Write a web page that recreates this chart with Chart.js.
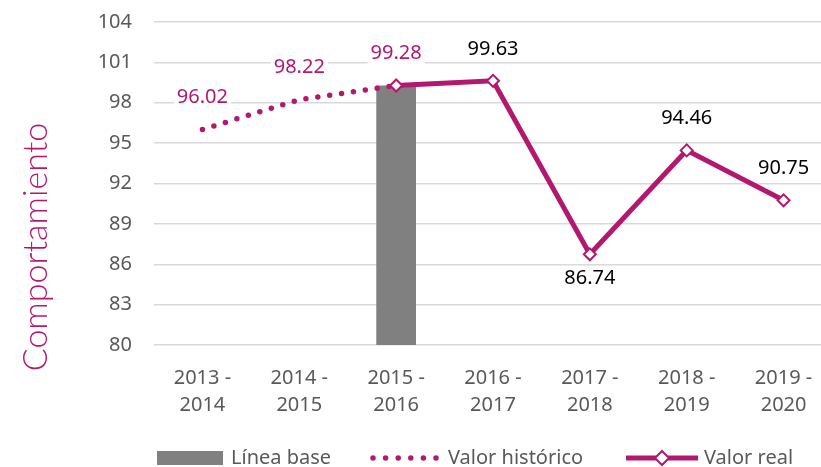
<!DOCTYPE html>
<html>
<head>
<meta charset="utf-8">
<script src="https://cdn.jsdelivr.net/npm/chart.js@4.4.1/dist/chart.umd.min.js"></script>
<style>
  html, body { margin: 0; padding: 0; background: #fff; overflow: hidden; }
  #wrap { position: relative; width: 821px; height: 467px; overflow: hidden; }
  #wrap canvas { position: absolute; left: 0; top: 0; }
</style>
</head>
<body>
<div id="wrap"><canvas id="chart" width="840" height="467"></canvas></div>
<script>
const periods = [
  ['2013 -', '2014'], ['2014 -', '2015'], ['2015 -', '2016'], ['2016 -', '2017'],
  ['2017 -', '2018'], ['2018 -', '2019'], ['2019 -', '2020'],
];
const lineaBase = [null, null, 99.28, null, null, null, null];
const valorHistorico = [96.02, 98.22, 99.28, null, null, null, null];
const valorReal = [null, null, 99.28, 99.63, 86.74, 94.46, 90.75];

const MAGENTA = '#b3186f';
const GRAY_TXT = '#595959';
const FONT = '"Noto Sans", "Open Sans", sans-serif';

// value labels with a white box behind, like Excel's data labels
const valueLabels = {
  id: 'valueLabels',
  afterDatasetsDraw: chart => {
    const ctx = chart.ctx;
    ctx.save();
    ctx.font = `20px ${FONT}`;
    ctx.textAlign = 'center';
    ctx.textBaseline = 'middle';
    chart.data.datasets.forEach((ds, di) => {
      if (!ds.labelColor) return;
      const meta = chart.getDatasetMeta(di);
      ds.data.forEach((v, i) => {
        if (v == null) return;
        if (ds.skipWhereHistoric && valorHistorico[i] != null) return;
        const pt = meta.data[i];
        const prev = ds.data[i - 1], next = ds.data[i + 1];
        const below = prev != null && next != null && v < prev && v < next;
        const y = below ? pt.y + 24 : pt.y - 32;
        const txt = v.toFixed(2);
        const w = ctx.measureText(txt).width;
        ctx.fillStyle = '#fff';
        ctx.fillRect(pt.x - w / 2 - 3, y - 12, w + 6, 24);
        ctx.fillStyle = ds.labelColor;
        ctx.fillText(txt, pt.x, y);
      });
    });
    ctx.restore();
  },
};

// axis title and legend, placed like the original
const extras = {
  id: 'extras',
  afterDraw: chart => {
    const ctx = chart.ctx;
    ctx.save();
    ctx.translate(36, 247);
    ctx.rotate(-Math.PI / 2);
    ctx.font = `300 34px "Lato", ${FONT}`;
    ctx.fillStyle = MAGENTA;
    ctx.textAlign = 'center';
    ctx.textBaseline = 'middle';
    ctx.fillText('Comportamiento', 0, 0);
    ctx.restore();

    const y = 458;
    ctx.save();
    ctx.font = `20px ${FONT}`;
    ctx.textBaseline = 'middle';

    ctx.fillStyle = '#808080';
    ctx.fillRect(157, y - 7, 66, 14);
    ctx.fillStyle = GRAY_TXT;
    ctx.fillText('Línea base', 231, y);

    ctx.strokeStyle = MAGENTA;
    ctx.lineWidth = 5.5;
    ctx.lineCap = 'round';
    ctx.setLineDash([0, 12.6]);
    ctx.beginPath();
    ctx.moveTo(373, y);
    ctx.lineTo(437, y);
    ctx.stroke();
    ctx.setLineDash([]);
    ctx.fillText('Valor histórico', 448, y);

    ctx.lineCap = 'butt';
    ctx.lineWidth = 5;
    ctx.beginPath();
    ctx.moveTo(626, y);
    ctx.lineTo(698, y);
    ctx.stroke();
    ctx.fillStyle = '#fff';
    ctx.lineWidth = 2;
    ctx.beginPath();
    ctx.moveTo(662, y - 7);
    ctx.lineTo(669, y);
    ctx.lineTo(662, y + 7);
    ctx.lineTo(655, y);
    ctx.closePath();
    ctx.fill();
    ctx.stroke();
    ctx.fillStyle = GRAY_TXT;
    ctx.fillText('Valor real', 704, y);
    ctx.restore();
  },
};

new Chart(document.getElementById('chart'), {
  type: 'bar',
  data: {
    labels: periods,
    datasets: [
      {
        type: 'line',
        label: 'Valor real',
        data: valorReal,
        borderColor: MAGENTA,
        borderWidth: 5,
        pointStyle: 'rectRot',
        pointRadius: 6,
        pointBorderWidth: 2,
        pointBackgroundColor: '#fff',
        pointBorderColor: MAGENTA,
        labelColor: '#000',
        skipWhereHistoric: true,
        order: 1,
      },
      {
        type: 'line',
        label: 'Valor histórico',
        data: valorHistorico,
        borderColor: MAGENTA,
        borderWidth: 5.5,
        borderDash: [0, 12],
        borderCapStyle: 'round',
        pointRadius: 0,
        labelColor: MAGENTA,
        order: 2,
      },
      {
        label: 'Línea base',
        data: lineaBase,
        backgroundColor: '#808080',
        barPercentage: 0.41,
        categoryPercentage: 1,
        order: 3,
      },
    ],
  },
  options: {
    responsive: false,
    animation: false,
    layout: { padding: { top: 22, right: 4, bottom: 0, left: 0 } },
    scales: {
      x: {
        grid: { display: false },
        border: { display: false },
        ticks: {
          color: GRAY_TXT,
          font: { family: FONT, size: 20, lineHeight: 1.35 },
          padding: 12,
          maxRotation: 0,
          autoSkip: false,
        },
        afterFit: scale => { scale.height = 122; },
      },
      y: {
        min: 80,
        max: 104,
        grid: { color: '#d9d9d9', lineWidth: 1.5, drawTicks: false },
        border: { display: false },
        ticks: {
          stepSize: 3,
          color: GRAY_TXT,
          font: { family: FONT, size: 20 },
          padding: 22,
        },
        afterFit: scale => {
          scale.width = 154;
          scale.paddingTop = 0;
          scale.paddingBottom = 0;
        },
      },
    },
    plugins: {
      legend: { display: false },
      tooltip: { enabled: false },
    },
  },
  plugins: [valueLabels, extras],
});
</script>
</body>
</html>
